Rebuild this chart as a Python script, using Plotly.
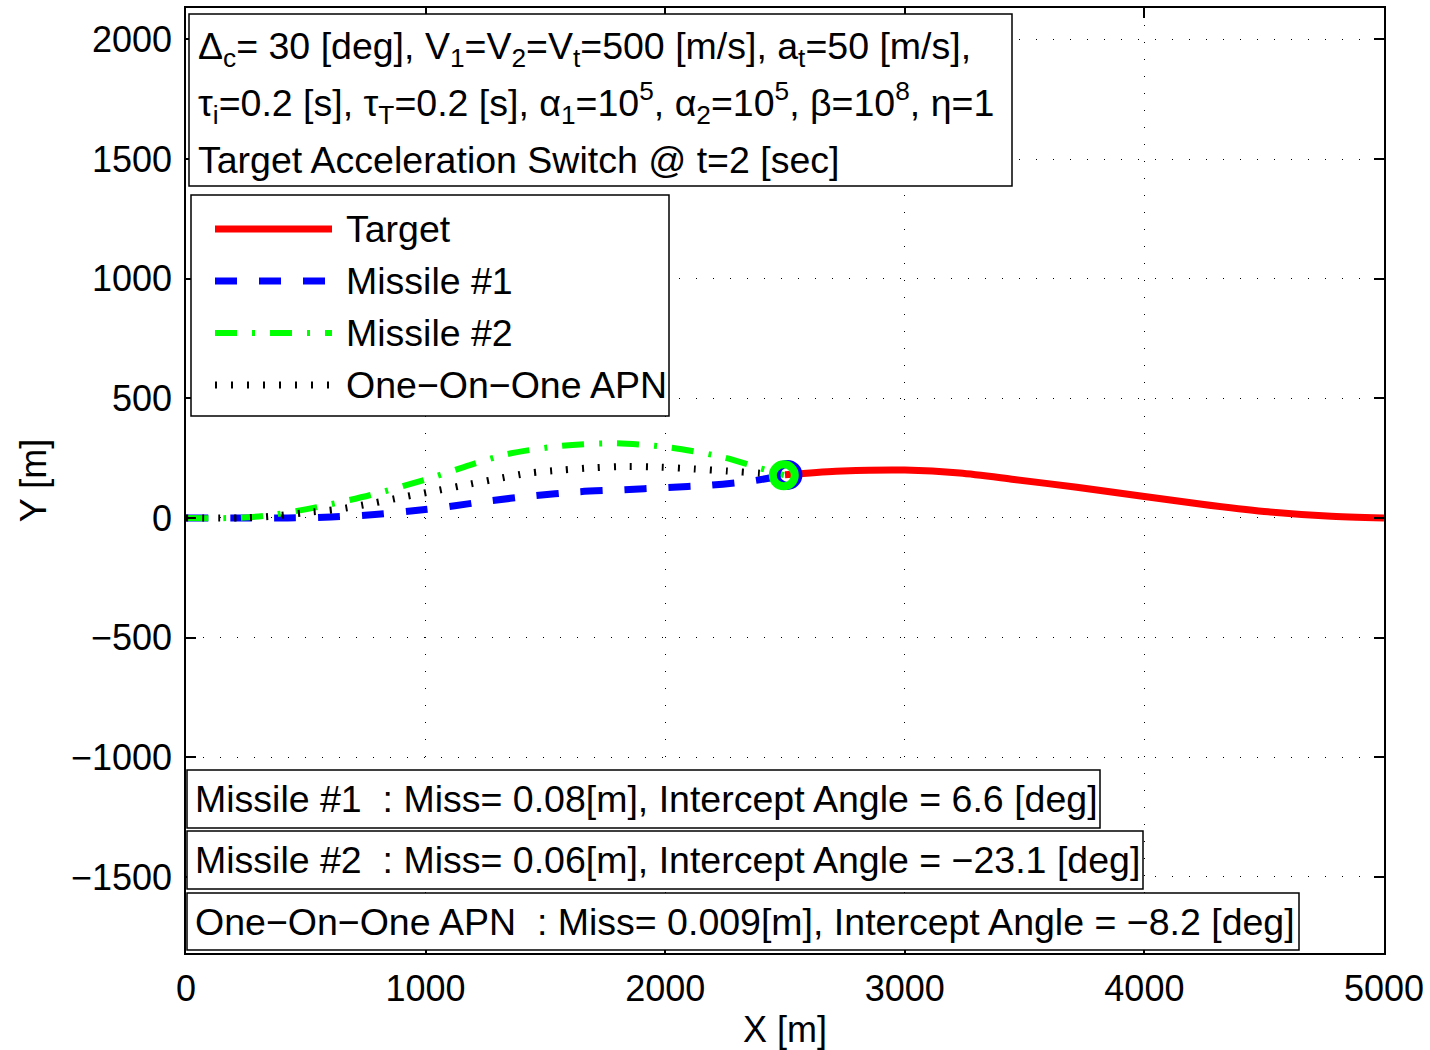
import plotly.graph_objects as go

# ---------------- data ----------------
target_x = [2500, 2545, 2740, 3000, 3229, 3456, 3718, 3977, 4240, 4500, 4762, 5000]
target_y = [181, 184, 196, 200, 188, 161, 128, 93, 57, 27, 8, 0]

m1_x = [0, 234, 425, 605, 788, 978, 1081, 1263, 1444, 1635, 1826, 1999, 2189, 2371, 2505]
m1_y = [0, 0, 0, 4, 14, 33, 45, 71, 92, 109, 118, 127, 137, 156, 180]

m2_x = [0, 200, 338, 546, 770, 995, 1185, 1341, 1566, 1790, 2016, 2241, 2396, 2495]
m2_y = [0, 0, 10, 45, 96, 159, 221, 267, 301, 312, 295, 254, 208, 179]

apn_x = [0, 230, 355, 494, 632, 770, 909, 1013, 1151, 1290, 1428, 1566, 1705, 1843, 1981, 2120, 2258, 2396, 2500]
apn_y = [0, 0, 7, 22, 36, 60, 88, 108, 135, 162, 187, 200, 210, 215, 212, 205, 196, 187, 181]

m1_end = ([2510], [180])
m2_end = ([2495], [178])

legend_names = ["Target", "Missile #1", "Missile #2", "One\u2212On\u2212One APN"]

info_lines = [
    "\u0394<sub>c</sub>= 30 [deg], V<sub>1</sub>=V<sub>2</sub>=V<sub>t</sub>=500 [m/s], a<sub>t</sub>=50 [m/s],",
    "\u03c4<sub>i</sub>=0.2 [s], \u03c4<sub>T</sub>=0.2 [s], \u03b1<sub>1</sub>=10<sup>5</sup>, \u03b1<sub>2</sub>=10<sup>5</sup>, \u03b2=10<sup>8</sup>, \u03b7=1",
    "Target Acceleration Switch @ t=2 [sec]",
]
result_lines = [
    "Missile #1 \u00a0: Miss= 0.08[m], Intercept Angle = 6.6 [deg]",
    "Missile #2 \u00a0: Miss= 0.06[m], Intercept Angle = \u221223.1 [deg]",
    "One\u2212On\u2212One APN \u00a0: Miss= 0.009[m], Intercept Angle = \u22128.2 [deg]",
]

x_ticks = [0, 1000, 2000, 3000, 4000, 5000]
y_ticks = [-1500, -1000, -500, 0, 500, 1000, 1500, 2000]
x_range = [0, 5000]
y_range = [-1818, 2131]

# ---------------- styles ----------------
FONT = "Liberation Sans, Arial, Helvetica, sans-serif"
TXT = 37.5
RED, BLUE, GREEN, BLACK = "#ff0000", "#0000ff", "#00ff00", "#000000"
styles = [
    dict(color=RED, width=7, dash="solid"),
    dict(color=BLUE, width=7, dash="22px,22px"),
    dict(color=GREEN, width=6, dash="22px,15px,3px,15px"),
    dict(color=BLACK, width=7, dash="2px,14px"),
]

W, H = 1430, 1050
L, R, T, B = 186, 1384, 8, 953


def px(x):
    return (x - L) / (R - L)


def py(y):
    return (B - y) / (B - T)


fig = go.Figure()
for xs, ys, name, st in zip([target_x, m1_x, m2_x, apn_x],
                            [target_y, m1_y, m2_y, apn_y],
                            legend_names, styles):
    fig.add_trace(go.Scatter(x=xs, y=ys, mode="lines", name=name,
                             line=dict(color=st["color"], width=st["width"],
                                       dash=st["dash"], shape="spline", smoothing=0.8),
                             showlegend=False))

fig.add_trace(go.Scatter(x=m1_end[0], y=m1_end[1], mode="markers", showlegend=False,
                         marker=dict(symbol="circle-open", size=22, color=BLUE,
                                     line=dict(color=BLUE, width=8))))
fig.add_trace(go.Scatter(x=m2_end[0], y=m2_end[1], mode="markers", showlegend=False,
                         marker=dict(symbol="circle-open", size=22, color=GREEN,
                                     line=dict(color=GREEN, width=8))))

shapes = []
annotations = []

# info box
shapes.append(dict(type="rect", xref="paper", yref="paper",
                   x0=px(189), x1=px(1012), y0=py(186), y1=py(14),
                   line=dict(color=BLACK, width=1.5), fillcolor="white", layer="above"))
for txt, yc in zip(info_lines, [49, 103, 160]):
    annotations.append(dict(text=txt, xref="paper", yref="paper", x=px(196), y=py(yc),
                            xanchor="left", yanchor="middle", showarrow=False,
                            font=dict(family=FONT, size=TXT, color=BLACK)))

# legend box
shapes.append(dict(type="rect", xref="paper", yref="paper",
                   x0=px(191), x1=px(669), y0=py(416), y1=py(195),
                   line=dict(color=BLACK, width=1.5), fillcolor="white", layer="above"))
for name, st, yc in zip(legend_names, styles, [229, 281, 333, 385]):
    shapes.append(dict(type="line", xref="paper", yref="paper",
                       x0=px(215), x1=px(332), y0=py(yc), y1=py(yc),
                       line=dict(color=st["color"], width=st["width"], dash=st["dash"]),
                       layer="above"))
    annotations.append(dict(text=name, xref="paper", yref="paper", x=px(344), y=py(yc),
                            xanchor="left", yanchor="middle", showarrow=False,
                            font=dict(family=FONT, size=TXT, color=BLACK)))

# result boxes
for txt, (y0, y1, x1) in zip(result_lines, [(770, 828, 1100), (831, 889, 1143), (893, 950, 1299)]):
    shapes.append(dict(type="rect", xref="paper", yref="paper",
                       x0=px(187), x1=px(x1), y0=py(y1), y1=py(y0),
                       line=dict(color=BLACK, width=1.5), fillcolor="white", layer="above"))
    annotations.append(dict(text=txt, xref="paper", yref="paper", x=px(193), y=py((y0 + y1) / 2),
                            xanchor="left", yanchor="middle", showarrow=False,
                            font=dict(family=FONT, size=TXT, color=BLACK)))

axis_common = dict(showline=True, linecolor=BLACK, linewidth=1.5, mirror="ticks",
                   ticks="inside", ticklen=10, tickwidth=1.5, tickcolor=BLACK,
                   showgrid=True, gridcolor=BLACK, gridwidth=1, griddash="1px,16px",
                   zeroline=False, automargin=False,
                   tickfont=dict(family=FONT, size=36, color=BLACK))

fig.update_layout(
    width=W, height=H,
    margin=dict(l=L, r=W - R, t=T, b=H - B),
    paper_bgcolor="white", plot_bgcolor="white",
    xaxis=dict(range=x_range, tickvals=x_ticks, ticklabelstandoff=3,
               title=dict(text="X [m]", standoff=11, font=dict(family=FONT, size=36, color=BLACK)),
               **axis_common),
    yaxis=dict(range=y_range, tickvals=y_ticks, ticklabelstandoff=5,
               title=dict(text="Y [m]", standoff=13, font=dict(family=FONT, size=36, color=BLACK)),
               **axis_common),
    shapes=shapes, annotations=annotations, showlegend=False,
)

fig.write_html("out.html")
